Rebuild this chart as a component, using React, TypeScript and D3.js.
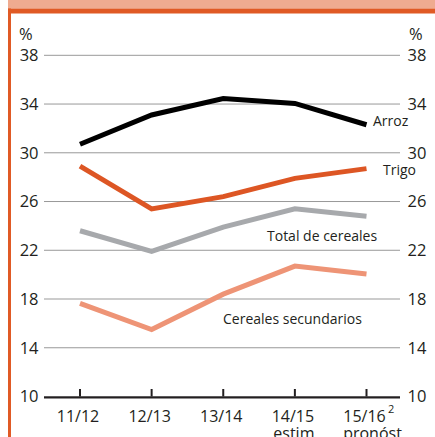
import React from "react";
import * as d3 from "d3";

const years = ["11/12", "12/13", "13/14", "14/15", "15/16"];
const subLabels = ["", "", "", "estim", "pronóst"];
const yTicks = [10, 14, 18, 22, 26, 30, 34, 38];

const arroz = [30.7, 33.1, 34.45, 34.05, 32.3];
const trigo = [28.9, 25.4, 26.4, 27.9, 28.7];
const totalCereales = [23.6, 21.9, 23.9, 25.4, 24.8];
const secundarios = [17.65, 15.5, 18.4, 20.7, 20.05];

const series = [
  { name: "Arroz", values: arroz, color: "#000000", lx: 373, ly: 126 },
  { name: "Trigo", values: trigo, color: "#dd5624", lx: 383, ly: 175 },
  { name: "Total de cereales", values: totalCereales, color: "#a7a9ac", lx: 267, ly: 241 },
  { name: "Cereales secundarios", values: secundarios, color: "#ee9476", lx: 223, ly: 324 },
];

const font = "'Open Sans', 'Noto Sans', sans-serif";

export default function App() {
  const width = 435;
  const height = 437;

  const x = d3.scalePoint<string>().domain(years).range([80, 366.5]);
  const y = d3.scaleLinear().domain([10, 38]).range([396.5, 55.3]);

  const line = d3
    .line<number>()
    .x((_, i) => x(years[i]) as number)
    .y((d) => y(d));

  return (
    <svg
      width={width}
      height={height}
      style={{ position: "fixed", left: 0, top: 0, background: "#fff" }}
      fontFamily={font}
    >
      {/* frame */}
      <rect x={8} y={0} width={width - 8} height={8.5} fill="#efab90" />
      <rect x={8} y={8.5} width={width - 8} height={5} fill="#e05a25" />
      <rect x={8} y={8.5} width={3} height={height} fill="#e05a25" />

      {/* grid + y labels */}
      {yTicks.map((t) => (
        <g key={t}>
          <line x1={44} x2={400} y1={y(t)} y2={y(t)} stroke="#999999" strokeWidth={1} />
          <text x={38.5} y={y(t)} dy="0.36em" textAnchor="end" fontSize={16.5} fill="#231f20">
            {t}
          </text>
          <text x={407.5} y={y(t)} dy="0.36em" textAnchor="start" fontSize={16.5} fill="#231f20">
            {t}
          </text>
        </g>
      ))}
      <text x={19} y={40} fontSize={16.5} fill="#231f20">%</text>
      <text x={409} y={40} fontSize={16.5} fill="#231f20">%</text>

      {/* x axis */}
      <line x1={44} x2={400} y1={y(10) + 1} y2={y(10) + 1} stroke="#231f20" strokeWidth={2} />
      {years.map((yr, i) => (
        <g key={yr}>
          <line
            x1={x(yr)}
            x2={x(yr)}
            y1={y(10)}
            y2={y(10) - 7.5}
            stroke="#231f20"
            strokeWidth={2}
          />
          <text x={(x(yr) as number) - 2} y={421.5} textAnchor="middle" fontSize={16} fill="#231f20">
            {yr}
          </text>
          {subLabels[i] && (
            <text
              x={(x(yr) as number) + (i === 4 ? 6 : -1)}
              y={439}
              textAnchor="middle"
              fontSize={16}
              fill="#231f20"
            >
              {subLabels[i]}
            </text>
          )}
        </g>
      ))}
      <text x={388} y={413} fontSize={11} fill="#231f20">2</text>

      {/* series */}
      {series.map((s) => (
        <g key={s.name}>
          <path
            d={line(s.values) || ""}
            fill="none"
            stroke={s.color}
            strokeWidth={5}
            strokeLinejoin="miter"
          />
          <text x={s.lx} y={s.ly} fontSize={14} fill="#231f20">
            {s.name}
          </text>
        </g>
      ))}
    </svg>
  );
}
